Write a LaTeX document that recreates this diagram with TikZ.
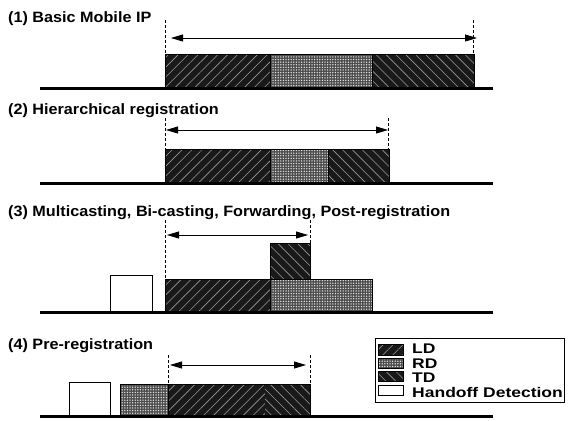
\documentclass[tikz,border=0pt]{standalone}
\usepackage{fontspec}
\setmainfont{Liberation Sans}
\newfontfamily\titlefont[FakeStretch=1.08]{Liberation Sans}
\newfontfamily\legfont[FakeStretch=1.25]{Liberation Sans}
\usetikzlibrary{arrows.meta,patterns.meta}
\tikzset{
  base/.style={line width=3pt},
  dashline/.style={line width=0.5pt, dash pattern=on 3pt off 2pt},
  span/.style={{Triangle[length=12pt,width=7pt]}-{Triangle[length=12pt,width=7pt]}, line width=0.8pt},
  ld/.style={draw=black, line width=0.6pt, preaction={fill=black!90}, pattern={Lines[angle=45,distance=7pt,line width=0.6pt]}, pattern color=white!60!black},
  td/.style={draw=black, line width=0.6pt, preaction={fill=black!90}, pattern={Lines[angle=-45,distance=7pt,line width=0.6pt]}, pattern color=white!60!black},
  rd/.style={draw=black, line width=0.6pt, preaction={fill=black!70}, pattern={Dots[distance=2.6pt,radius=0.75pt]}, pattern color=white!90!black},
  hd/.style={draw=black, line width=0.8pt, fill=white},
  title/.style={anchor=base west, inner sep=0pt, font=\titlefont\fontsize{15}{18}\selectfont\bfseries},
  leg/.style={anchor=base west, inner sep=0pt, font=\legfont\fontsize{14}{16}\selectfont\bfseries}
}
\begin{document}
\begin{tikzpicture}[x=1pt,y=-1pt]
\useasboundingbox (0,0) rectangle (574,421);

% ---- Row 1
\node[title] (t1) at (8,22) {(1) Basic Mobile IP};
\draw[dashline] (165,20) -- (165,54);
\draw[dashline] (473,20) -- (473,54);
\coordinate (a1l) at (171,38); \coordinate (a1r) at (477,38);
\draw[span] (a1l) -- (a1r);
\draw[ld] (165,54) rectangle (270,88);
\draw[rd] (270,54) rectangle (372,88);
\draw[td] (372,54) rectangle (474,88);
\draw[base] (40,88) -- (493,88);

% ---- Row 2
\node[title] (t2) at (8,114) {(2) Hierarchical registration};
\draw[dashline] (165,118) -- (165,149);
\draw[dashline] (388,118) -- (388,149);
\coordinate (a2l) at (166,130); \coordinate (a2r) at (388,130);
\draw[span] (a2l) -- (a2r);
\draw[ld] (165,149) rectangle (270,183);
\draw[rd] (270,149) rectangle (328,183);
\draw[td] (328,149) rectangle (389,183);
\draw[base] (40,183) -- (493,183);

% ---- Row 3
\node[title] (t3) at (8,216) {(3) Multicasting, Bi-casting, Forwarding, Post-registration};
\draw[dashline] (165,220) -- (165,279);
\draw[dashline] (310,220) -- (310,243);
\coordinate (a3l) at (167,235); \coordinate (a3r) at (308,235);
\draw[span] (a3l) -- (a3r);
\draw[hd] (110,275) rectangle (152,312);
\draw[ld] (165,279) rectangle (270,312);
\draw[rd] (270,279) rectangle (372,312);
\draw[td] (270,243) rectangle (310,279);
\draw[base] (40,312) -- (493,312);

% ---- Row 4
\node[title] (t4) at (8,349) {(4) Pre-registration};
\draw[dashline] (168,355) -- (168,384);
\draw[dashline] (310,355) -- (310,384);
\coordinate (a4l) at (170,365); \coordinate (a4r) at (306,365);
\draw[span] (a4l) -- (a4r);
\draw[hd] (69,382) rectangle (110,416);
\draw[rd] (120,384) rectangle (168,416);
\draw[ld, draw=none] (168,384) rectangle (265,416);
\draw[td, draw=none] (265,384) rectangle (310,416);
\draw[line width=0.6pt] (168,384) rectangle (310,416);
\draw[base] (40,416) -- (493,416);

% ---- Legend
\draw[line width=0.8pt] (375,338) rectangle (564,402);
\draw[ld] (378,344) rectangle (403,355);
\draw[rd] (378,358) rectangle (403,368);
\draw[td] (378,371) rectangle (403,381);
\draw[hd] (378,385) rectangle (403,395);
\node[leg] (lld) at (412,353) {LD};
\node[leg] (lrd) at (412,368) {RD};
\node[leg] (ltd) at (412,382) {TD};
\node[leg] (lhd) at (412,397) {Handoff Detection};
\end{tikzpicture}
\end{document}
